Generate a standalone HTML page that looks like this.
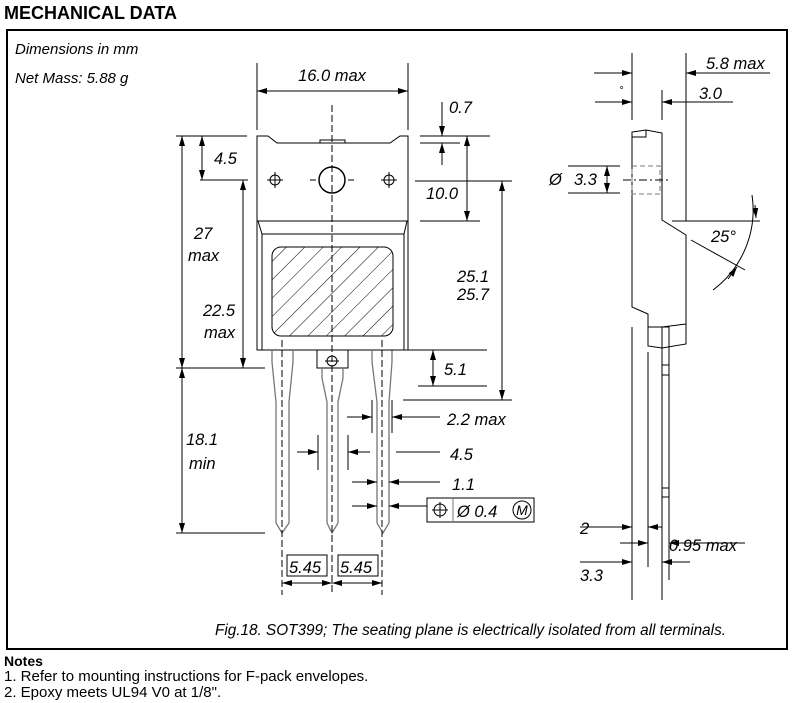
<!DOCTYPE html>
<html><head><meta charset="utf-8"><style>
html,body{margin:0;padding:0;background:#fff;}
svg{display:block;}
text{font-family:"Liberation Sans",sans-serif;fill:#000;}
.d{font-style:italic;font-size:16.5px;}
</style></head><body>
<svg width="793" height="703" viewBox="0 0 793 703" xmlns="http://www.w3.org/2000/svg">
<defs>
<marker id="a" viewBox="0 0 10 6" refX="10" refY="3" markerWidth="10" markerHeight="6" markerUnits="userSpaceOnUse" orient="auto-start-reverse"><path d="M0,0L10,3L0,6Z" fill="#000"/></marker>
<pattern id="h" patternUnits="userSpaceOnUse" width="13" height="13" patternTransform="rotate(45)"><line x1="0" y1="0" x2="0" y2="13" stroke="#000" stroke-width="1"/></pattern>
</defs>
<text x="4" y="19" font-weight="bold" font-size="18">MECHANICAL DATA</text>
<rect x="7" y="30" width="780" height="619" fill="none" stroke="#000" stroke-width="2"/>
<text x="15" y="54" font-style="italic" font-size="15">Dimensions in mm</text>
<text x="15" y="83" font-style="italic" font-size="15">Net Mass: 5.88 g</text>

<g stroke="#000" stroke-width="1" fill="none">
<path d="M257,350 V136 H268 L277,143 H390 L400,136 H408 V350 Z"/>
<path d="M320,143 V140 H345 V143"/>
<line x1="257" y1="221" x2="408" y2="221"/>
<path d="M258,221 L262,234 H404 L407,221"/>
<line x1="262" y1="234" x2="262" y2="350"/><line x1="404" y1="234" x2="404" y2="350"/>
<circle cx="332" cy="180" r="13" stroke-width="1.5"/>
<circle cx="275" cy="180" r="5"/><circle cx="389" cy="180" r="5"/>
<path d="M267,180h16M275,172v16M381,180h16M389,172v16M310,180h6M348,180h6" />
<rect x="272" y="247" width="121" height="89" rx="9" fill="url(#h)"/>
<path d="M317,350 V368 H348 V350"/>
<circle cx="332" cy="361" r="5"/><path d="M325,361h14"/>
<g stroke="#777" stroke-width="1.3">
<path d="M272,350 V362 L276,402 V523 L282,533 L289,523 V402 L293,362 V350"/>
<path d="M322,368 V378 L327,402 V523 L332,533 L338,523 V402 L343,378 V368"/>
<path d="M372,350 V362 L377,402 V523 L383,533 L389,523 V402 L392,362 V350"/>
</g>
<path d="M332,105 V595M282,340 V595M382,340 V595" stroke-dasharray="7,3"/>
<path d="M257,63V130M408,63V130"/>
<line x1="257" y1="91" x2="408" y2="91" marker-start="url(#a)" marker-end="url(#a)"/>
<path d="M176,136H247M200,180H248M176,368H265M176,533H265"/>
<line x1="182" y1="136" x2="182" y2="368" marker-start="url(#a)" marker-end="url(#a)"/>
<line x1="202" y1="136" x2="202" y2="180" marker-start="url(#a)" marker-end="url(#a)"/>
<line x1="243" y1="180" x2="243" y2="368" marker-start="url(#a)" marker-end="url(#a)"/>
<line x1="182" y1="368" x2="182" y2="533" marker-start="url(#a)" marker-end="url(#a)"/>
<path d="M420,136H490M420,143H460M420,221H480M415,181H512M403,400H512M390,350H487M418,386H487"/>
<line x1="442" y1="102" x2="442" y2="136" marker-end="url(#a)"/>
<line x1="442" y1="165" x2="442" y2="143" marker-end="url(#a)"/>
<line x1="467" y1="136" x2="467" y2="221" marker-start="url(#a)" marker-end="url(#a)"/>
<line x1="502" y1="181" x2="502" y2="400" marker-start="url(#a)" marker-end="url(#a)"/>
<line x1="433" y1="350" x2="433" y2="386" marker-start="url(#a)" marker-end="url(#a)"/>
<path d="M372,400V433M392,400V433M318,435V470M348,435V470M396,452H440"/>
<line x1="347" y1="417" x2="372" y2="417" marker-end="url(#a)"/>
<line x1="440" y1="417" x2="392" y2="417" marker-end="url(#a)"/>
<line x1="297" y1="452" x2="318" y2="452" marker-end="url(#a)"/>
<line x1="370" y1="452" x2="348" y2="452" marker-end="url(#a)"/>
<line x1="352" y1="482" x2="377" y2="482" marker-end="url(#a)"/>
<line x1="440" y1="482" x2="389" y2="482" marker-end="url(#a)"/>
<line x1="352" y1="506" x2="377" y2="506" marker-end="url(#a)"/>
<line x1="427" y1="506" x2="389" y2="506" marker-end="url(#a)"/>
<rect x="427" y="498" width="107" height="24"/>
<line x1="453" y1="498" x2="453" y2="522" stroke="#777"/>
<circle cx="440" cy="510" r="6"/><path d="M432,510h16M440,502v16"/>
<circle cx="522" cy="510" r="9"/>
<rect x="287" y="555" width="40" height="21"/><rect x="338" y="555" width="40" height="21"/>
<line x1="282" y1="583" x2="332" y2="583" marker-start="url(#a)" marker-end="url(#a)"/>
<line x1="332" y1="583" x2="382" y2="583" marker-start="url(#a)" marker-end="url(#a)"/>

<path d="M632,53V120M662,90V120M686,53V221"/>
<line x1="594" y1="73" x2="632" y2="73" marker-end="url(#a)"/>
<line x1="770" y1="73" x2="686" y2="73" marker-end="url(#a)"/>
<line x1="595" y1="102" x2="632" y2="102" marker-end="url(#a)"/>
<line x1="733" y1="102" x2="662" y2="102" marker-end="url(#a)"/>
<path d="M632,307V132L646,130L662,133V220L686,235V344L662,348L648,346V314Z"/>
<path d="M632,137H646V130M648,327H662L686,324"/>
<rect x="632" y="166" width="28" height="28" stroke="#777" stroke-dasharray="5,3"/>
<path d="M623,180H670" stroke-dasharray="8,3,2,3"/>
<path d="M568,166H620M568,193H620"/>
<line x1="607" y1="180" x2="607" y2="166" marker-end="url(#a)"/>
<line x1="607" y1="180" x2="607" y2="193" marker-end="url(#a)"/>
<path d="M672,221H760M691,240L745,270"/>
<path d="M752,195 A100,100 0 0 1 713,290"/>
<line x1="755" y1="205" x2="756" y2="218" marker-end="url(#a)"/>
<line x1="728" y1="279" x2="737" y2="267" marker-end="url(#a)"/>
<rect x="662" y="327" width="7" height="170"/>
<path d="M662,365H669M662,375H669M662,488H669"/>
<path d="M632,327V600M648,352V567M662,497V600M669,497V580"/>
<line x1="580" y1="527" x2="632" y2="527" marker-end="url(#a)"/>
<line x1="662" y1="527" x2="648" y2="527" marker-end="url(#a)"/>
<line x1="620" y1="543" x2="648" y2="543" marker-end="url(#a)"/>
<line x1="745" y1="543" x2="669" y2="543" marker-end="url(#a)"/>
<line x1="580" y1="562" x2="632" y2="562" marker-end="url(#a)"/>
<line x1="690" y1="562" x2="662" y2="562" marker-end="url(#a)"/>
</g>

<g class="d">
<text x="332" y="81" text-anchor="middle">16.0 max</text>
<text x="449" y="113">0.7</text>
<text x="426" y="199">10.0</text>
<text x="457" y="282">25.1</text>
<text x="457" y="300">25.7</text>
<text x="444" y="375">5.1</text>
<text x="194" y="239">27</text>
<text x="188" y="261">max</text>
<text x="214" y="164">4.5</text>
<text x="203" y="316">22.5</text>
<text x="204" y="338">max</text>
<text x="186" y="445">18.1</text>
<text x="189" y="469">min</text>
<text x="447" y="425">2.2 max</text>
<text x="450" y="460">4.5</text>
<text x="452" y="490">1.1</text>
<text x="457" y="517">Ø 0.4</text>
<text x="522" y="515" text-anchor="middle" font-size="14">M</text>
<text x="289" y="573">5.45</text>
<text x="340" y="573">5.45</text>
<text x="706" y="69">5.8 max</text>
<text x="619" y="94" font-size="11">°</text>
<text x="699" y="99">3.0</text>
<text x="549" y="185">Ø</text>
<text x="574" y="185">3.3</text>
<text x="711" y="242">25°</text>
<text x="580" y="534">2</text>
<text x="669" y="551">0.95 max</text>
<text x="580" y="581">3.3</text>
</g>
<text x="215" y="635" font-style="italic" font-size="15.3">Fig.18.  SOT399; The seating plane is electrically isolated from all terminals.</text>
<text x="4" y="666" font-weight="bold" font-size="14">Notes</text>
<text x="4" y="681" font-size="15">1. Refer to mounting instructions for F-pack envelopes.</text>
<text x="4" y="697" font-size="15">2. Epoxy meets UL94 V0 at 1/8".</text>
</svg>
</body></html>
